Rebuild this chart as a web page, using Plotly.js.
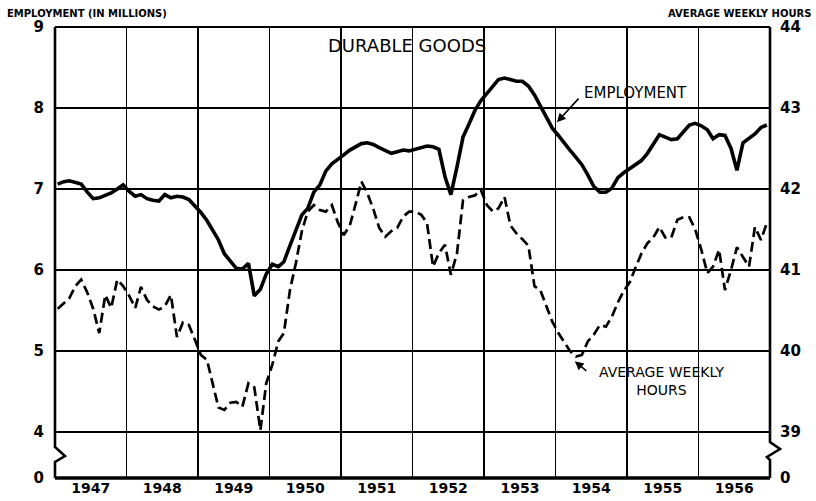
<!DOCTYPE html>
<html>
<head>
<meta charset="utf-8">
<script src="https://cdn.plot.ly/plotly-3.0.1.min.js"></script>
<style>html,body{margin:0;padding:0;background:#fff}#chart{width:816px;height:501px}</style>
</head>
<body>
<div id="chart"></div>
<script>
// ---- data ----
const years = [1947,1948,1949,1950,1951,1952,1953,1954,1955,1956];

// Employment, durable goods (millions), monthly Jan 1947 - Dec 1956
const employment = [
  7.06,7.09,7.10,7.08,7.06,6.96,6.88,6.89,6.92,6.95,7.00,7.05,
  6.97,6.91,6.93,6.88,6.86,6.85,6.93,6.89,6.91,6.90,6.87,6.79,
  6.71,6.61,6.50,6.37,6.20,6.10,6.02,6.01,6.08,5.68,5.76,5.95,
  6.07,6.04,6.10,6.30,6.50,6.68,6.76,6.96,7.05,7.22,7.31,7.36,
  7.42,7.48,7.52,7.56,7.57,7.55,7.51,7.47,7.44,7.46,7.48,7.47,
  7.49,7.52,7.53,7.52,7.49,7.15,6.93,7.27,7.64,7.80,7.97,8.09,
  8.18,8.28,8.35,8.37,8.35,8.33,8.33,8.27,8.16,8.02,7.88,7.75,
  7.66,7.56,7.48,7.39,7.30,7.17,7.03,6.96,6.96,7.01,7.14,7.20,
  7.25,7.30,7.35,7.44,7.56,7.67,7.64,7.61,7.62,7.70,7.79,7.81,
  7.78,7.73,7.62,7.67,7.66,7.50,7.23,7.57,7.63,7.68,7.76,7.79
];

// Average weekly hours, monthly Jan 1947 - Dec 1956
const hours = [
  40.52,40.59,40.65,40.80,40.88,40.72,40.52,40.22,40.69,40.53,40.88,40.80,
  40.68,40.53,40.79,40.63,40.55,40.51,40.55,40.69,40.17,40.35,40.32,40.14,
  39.95,39.89,39.60,39.30,39.27,39.36,39.37,39.31,39.60,39.55,39.02,39.60,
  39.83,40.12,40.22,40.75,41.08,41.48,41.72,41.80,41.74,41.72,41.80,41.59,
  41.43,41.55,41.80,42.09,41.95,41.75,41.52,41.41,41.48,41.52,41.66,41.72,
  41.72,41.68,41.58,41.04,41.21,41.31,40.94,41.20,41.86,41.90,41.92,41.99,
  41.80,41.72,41.76,41.90,41.55,41.45,41.38,41.30,40.80,40.75,40.55,40.36,
  40.22,40.11,40.00,39.93,39.95,40.12,40.20,40.32,40.30,40.42,40.60,40.74,
  40.85,41.04,41.20,41.33,41.40,41.53,41.40,41.40,41.62,41.65,41.65,41.50,
  41.25,40.96,41.04,41.25,40.75,41.00,41.28,41.16,41.04,41.53,41.37,41.58
];

// axis ticks (the lowest tick stands for the broken-axis "0")
const leftTickVals  = [3.43, 4, 5, 6, 7, 8, 9];
const leftTickText  = ['0','4','5','6','7','8','9'];
const rightTickVals = [38.43, 39, 40, 41, 42, 43, 44];
const rightTickText = ['0','39','40','41','42','43','44'];

// monthly dates
const months = [];
years.forEach(y => { for (let m = 1; m <= 12; m++) months.push(y + '-' + String(m).padStart(2,'0') + '-15'); });

const numFont = {family: 'DejaVu Sans', size: 15, color: '#000', weight: 700};

const traces = [
  {x: months, y: employment, type: 'scatter', mode: 'lines', xaxis: 'x', yaxis: 'y',
   line: {color: '#000', width: 3.6}, hoverinfo: 'skip', showlegend: false},
  {x: months, y: hours, type: 'scatter', mode: 'lines', xaxis: 'x', yaxis: 'y2',
   line: {color: '#000', width: 2.7, dash: '10px,5px'}, hoverinfo: 'skip', showlegend: false}
];

const layout = {
  width: 816, height: 501,
  margin: {l: 55, r: 46, t: 27, b: 23},
  paper_bgcolor: '#fff', plot_bgcolor: '#fff',
  showlegend: false,
  xaxis: {
    type: 'date', range: ['1947-01-01', '1956-12-31'],
    tick0: '1947-01-01', dtick: 'M12', tickformat: '%Y', ticklabelmode: 'period',
    ticks: '', showgrid: true, gridcolor: '#000', gridwidth: 1.4,
    showline: false, zeroline: false,
    tickfont: {family: 'DejaVu Sans', size: 14, color: '#000', weight: 700},
    ticklabelstandoff: 0, fixedrange: true
  },
  yaxis: {
    range: [3.43, 9], tickmode: 'array', tickvals: leftTickVals, ticktext: leftTickText,
    ticks: '', showgrid: true, gridcolor: '#000', gridwidth: 1.4, zeroline: false,
    showline: false, tickfont: numFont, ticklabelstandoff: 10, fixedrange: true
  },
  yaxis2: {
    overlaying: 'y', side: 'right', range: [38.43, 44], tickmode: 'array',
    tickvals: rightTickVals, ticktext: rightTickText, ticks: '', showgrid: false,
    zeroline: false, showline: false, tickfont: numFont, ticklabelstandoff: 9, fixedrange: true
  },
  shapes: [
    // top frame
    {type: 'line', xref: 'paper', yref: 'paper', x0: 0, x1: 1, y0: 1, y1: 1,
     line: {color: '#000', width: 2.2}},
    // bottom frame (zero line)
    {type: 'line', xref: 'paper', yref: 'paper', x0: 0, x1: 1, y0: 0, y1: 0, layer: 'above',
     line: {color: '#000', width: 3.6}},
    // left axis with break
    {type: 'path', xref: 'paper', yref: 'paper', layer: 'above',
     path: 'M 0 1 L 0 0.0687 L 0.014 0.0488 L 0 0.0355 L 0 0',
     line: {color: '#000', width: 2.6}},
    // right axis with break
    {type: 'path', xref: 'paper', yref: 'paper', layer: 'above',
     path: 'M 1 1 L 1 0.0798 L 1.014 0.0643 L 0.9958 0.0466 L 1 0.0399 L 1 0',
     line: {color: '#000', width: 2.6}}
  ],
  annotations: [
    {text: 'EMPLOYMENT (IN MILLIONS)', xref: 'paper', yref: 'paper', x: -0.07, y: 1.029,
     xanchor: 'left', yanchor: 'middle', showarrow: false,
     font: {family: 'DejaVu Sans', size: 10, color: '#000', weight: 700}},
    {text: 'AVERAGE WEEKLY HOURS', xref: 'paper', yref: 'paper', x: 1.060, y: 1.029,
     xanchor: 'right', yanchor: 'middle', showarrow: false,
     font: {family: 'DejaVu Sans', size: 10, color: '#000', weight: 700}},
    {text: 'DURABLE GOODS', xref: 'paper', yref: 'paper', x: 0.492, y: 0.960,
     xanchor: 'center', yanchor: 'middle', showarrow: false,
     font: {family: 'DejaVu Sans', size: 18, color: '#000'}},
    {text: 'EMPLOYMENT', xref: 'paper', yref: 'paper', x: 0.737, y: 0.854,
     xanchor: 'left', yanchor: 'middle', showarrow: false,
     font: {family: 'DejaVu Sans', size: 15, color: '#000', weight: 500}},
    {text: 'AVERAGE WEEKLY<br>HOURS', xref: 'paper', yref: 'paper', x: 0.8476, y: 0.215,
     xanchor: 'center', yanchor: 'middle', showarrow: false,
     font: {family: 'DejaVu Sans', size: 14, color: '#000', weight: 500}},
    // arrows
    {text: '', xref: 'paper', yref: 'paper', x: 0.702, y: 0.789, ax: 23, ay: -25,
     showarrow: true, arrowhead: 2, arrowsize: 1.1, arrowwidth: 1.6, arrowcolor: '#000'},
    {text: '', xref: 'paper', yref: 'paper', x: 0.727, y: 0.259, ax: 13, ay: 11,
     showarrow: true, arrowhead: 2, arrowsize: 1.1, arrowwidth: 1.6, arrowcolor: '#000'}
  ]
};

Plotly.newPlot('chart', traces, layout, {staticPlot: true, displayModeBar: false});
</script>
</body>
</html>
